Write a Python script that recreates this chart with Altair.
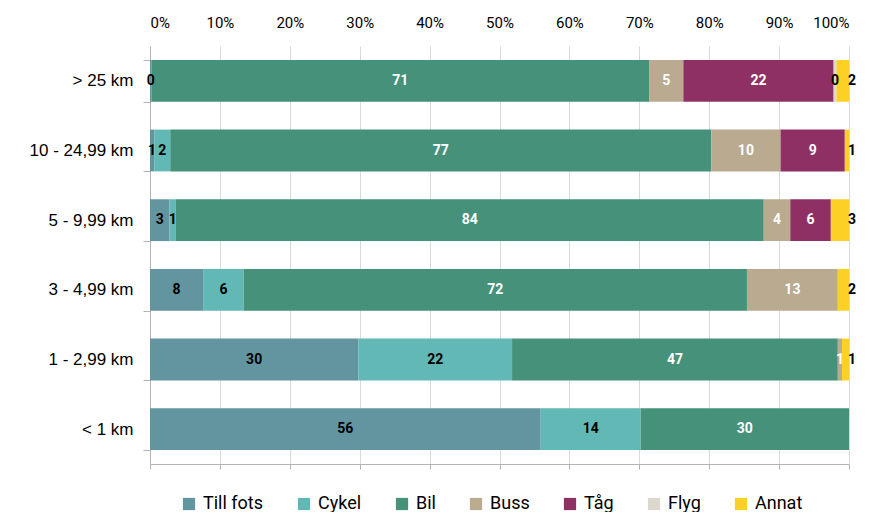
import altair as alt
import pandas as pd

categories = ["> 25 km", "10 - 24,99 km", "5 - 9,99 km", "3 - 4,99 km", "1 - 2,99 km", "< 1 km"]
modes = ["Till fots", "Cykel", "Bil", "Buss", "Tåg", "Flyg", "Annat"]
colors = ["#6395A1", "#62B8B5", "#45917A", "#B9AA90", "#8F3064", "#DDD8CF", "#FCD025"]

till_fots = [0.2, 0.6, 2.8, 7.6, 29.8, 55.9]
cykel = [0.0, 2.3, 0.9, 5.8, 22.0, 14.3]
bil = [71.2, 77.4, 84.1, 72.0, 46.6, 29.8]
buss = [4.9, 9.9, 3.8, 13.0, 0.6, 0.0]
tag = [21.5, 9.2, 5.8, 0.0, 0.0, 0.0]
flyg = [0.4, 0.0, 0.0, 0.0, 0.0, 0.0]
annat = [1.8, 0.6, 2.6, 1.6, 1.0, 0.0]

series = [till_fots, cykel, bil, buss, tag, flyg, annat]
rows = []
for mi, (mode, vals) in enumerate(zip(modes, series)):
    for cat, v in zip(categories, vals):
        if v > 0:
            rows.append({"cat": cat, "mode": mode, "order": mi, "value": v})
df = pd.DataFrame(rows)

calibri = "Roboto, sans-serif"
white_modes = ["Bil", "Buss", "Tåg"]

base = alt.Chart(df).transform_stack(
    stack="value", groupby=["cat"], as_=["v0", "v1"], sort=[alt.SortField("order")]
).transform_calculate(mid="(datum.v0 + datum.v1) / 2")

xscale = alt.Scale(domain=[0, 100], nice=False, zero=True)
yaxis = alt.Axis(
    orient="left", domainColor="#B3B3B3", tickColor="#B3B3B3", tickBand="extent",
    tickSize=7, labelPadding=10, labelFont="Liberation Sans", labelFontSize=17,
    labelColor="#000000", grid=False,
)
yenc = alt.Y("cat:N", sort=categories, title=None,
             scale=alt.Scale(paddingInner=0.4, paddingOuter=0.2), axis=yaxis)

bars = base.mark_bar().encode(
    x=alt.X("v0:Q", scale=xscale, title=None,
            axis=alt.Axis(orient="top", values=list(range(0, 101, 10)), labelExpr="datum.value + '%'",
                          domain=False, ticks=False, labelPadding=16, labelFont=calibri,
                          labelFontSize=15, labelColor="#000000", grid=True, gridColor="#D9D9D9")),
    x2="v1:Q",
    y=yenc,
    color=alt.Color("mode:N", scale=alt.Scale(domain=modes, range=colors), title=None,
                    legend=alt.Legend(orient="none", legendX=30, legendY=449, direction="horizontal",
                                      symbolType="square", symbolSize=150, symbolStrokeWidth=0,
                                      labelFont=calibri, labelFontSize=18, labelColor="#000000",
                                      columnPadding=31, labelOffset=5)),
    order=alt.Order("order:Q"),
)

labels = base.transform_filter(alt.datum.mode != "Annat").mark_text(
    font=calibri, fontSize=14, fontWeight="bold"
).encode(
    x=alt.X("mid:Q", scale=xscale, title=None,
            axis=alt.Axis(orient="bottom", values=list(range(0, 101, 10)), labels=False,
                          domainColor="#B3B3B3", tickColor="#B3B3B3", tickSize=5, grid=False)),
    y=yenc,
    text=alt.Text("value:Q", format=".0f"),
    color=alt.condition(alt.FieldOneOfPredicate(field="mode", oneOf=white_modes),
                        alt.value("#FFFFFF"), alt.value("#000000")),
)

annat_labels = base.transform_filter(alt.datum.mode == "Annat").mark_text(
    font=calibri, fontSize=14, fontWeight="bold", dx=3, color="#000000"
).encode(
    x=alt.X("v1:Q", scale=xscale, axis=None),
    y=yenc,
    text=alt.Text("value:Q", format=".0f"),
)

chart = alt.layer(bars, labels, annat_labels).resolve_axis(x="independent").properties(
    width=699, height=418,
    autosize=alt.AutoSizeParams(type="none"),
    padding={"left": 142, "top": 38, "right": 13, "bottom": 48},
).configure_view(stroke=None)

chart.save("out.html", embed_options={"renderer": "svg", "actions": False})
